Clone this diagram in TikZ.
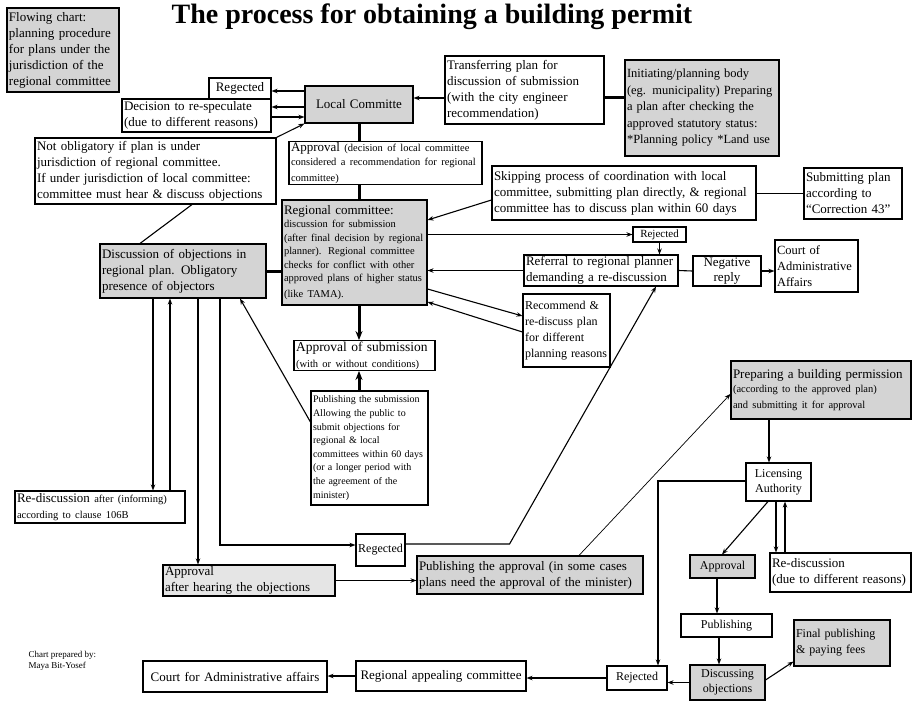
\documentclass[tikz,border=0pt]{standalone}
\usepackage{fontspec}
\setmainfont{Liberation Serif}
\usetikzlibrary{arrows.meta, calc}

\newcommand{\smalltxt}{\fontsize{10.5}{13.5}\selectfont}

\begin{document}
\begin{tikzpicture}[x=1pt, y=-1pt, >={Stealth[length=6pt,width=4.5pt]},
  box/.style={draw, line width=1.1pt, inner xsep=2pt, inner ysep=1pt, align=left, font=\fontsize{13}{16}\selectfont},
  graybox/.style={box, fill=black!17},
  link/.style={line width=1.1pt},
  heavy/.style={line width=3pt},
  faint/.style={line width=0.7pt},
  bigtip/.style={-{Stealth[length=9pt,width=7pt]}}]

\useasboundingbox (0,0) rectangle (913,702);

\node[font=\fontsize{28}{30}\selectfont\bfseries, anchor=base] (title) at (432,23) {The process for obtaining a building permit};

% upper part: local committee
\node[graybox, text width=108pt, minimum height=84pt] (flow) at (63,50) {Flowing chart:\\ planning procedure\\ for plans under the\\ jurisdiction of the\\ regional committee};
\node[box, align=center, text width=58pt, minimum height=21pt] (rejA) at (240,88.5) {Regected};
\node[box, text width=145pt, minimum height=33pt] (respec) at (196.5,115.5) {Decision to re-speculate\\ (due to different reasons)};
\node[box, text width=237pt, minimum height=66pt] (notobl) at (155.5,171) {Not obligatory if plan is under\\ jurisdiction of regional committee.\\ If under jurisdiction of local committee:\\ committee must hear \& discuss objections};
\node[graybox, align=center, text width=104pt, minimum height=37pt] (local) at (359,104.5) {Local Committe};
\node[box, text width=155pt, minimum height=68pt] (transfer) at (524.5,90) {Transferring plan for\\ discussion of submission\\ (with the city engineer\\ recommendation)};
\node[graybox, text width=150pt, minimum height=96pt, font=\fontsize{12.5}{16.5}\selectfont] (init) at (702,108) {Initiating/planning body\\ (eg. municipality) Preparing\\ a plan after checking the\\ approved statutory status:\\ {*}Planning policy {*}Land use};
\node[box, text width=189pt, minimum height=42pt] (apprlocal) at (385.5,163) {Approval {\smalltxt (decision of local committee}\\ \smalltxt considered a recommendation for regional\\ committee)};

% regional committee
\node[graybox, text width=141pt, minimum height=105pt] (regional) at (354.5,252.5) {Regional committee:\\ \smalltxt discussion for submission\\ (after final decision by regional\\ planner). Regional committee\\ checks for conflict with other\\ approved plans of higher status\\ (like TAMA).};
\node[box, text width=260pt, minimum height=54pt] (skip) at (624,193) {Skipping process of coordination with local\\ committee, submitting plan directly, \& regional\\ committee has to discuss plan within 60 days};
\node[box, text width=94pt, minimum height=51pt] (corr) at (853,193.5) {Submitting plan\\ according to\\ ``Correction 43''};
\node[box, align=center, text width=49pt, minimum height=15pt, inner ysep=0pt, font=\fontsize{11}{12}\selectfont] (rejB) at (659.5,234.5) {Rejected};
\node[box, text width=150pt, minimum height=31pt] (referral) at (601,270.5) {Referral to regional planner\\ demanding a re-discussion};
\node[box, align=center, text width=64pt, minimum height=30pt, font=\fontsize{13}{14.5}\selectfont] (negative) at (727,271) {Negative\\ reply};
\node[box, text width=79pt, minimum height=52pt, font=\fontsize{12.5}{16}\selectfont] (courtA) at (816.5,266) {Court of\\ Administrative\\ Affairs};
\node[box, text width=83pt, minimum height=73pt, font=\fontsize{12}{16}\selectfont] (recommend) at (566.5,330.5) {Recommend \&\\ re-discuss plan\\ for different\\ planning reasons};
\node[graybox, text width=162pt, minimum height=54pt] (objdisc) at (183,271) {Discussion of objections in\\ regional plan. Obligatory\\ presence of objectors};
\node[box, text width=137pt, minimum height=29pt] (apprsub) at (364.5,355.5) {{\fontsize{13.5}{15}\selectfont Approval of submission}\\ \smalltxt (with or without conditions)};
\node[box, text width=113pt, minimum height=114pt, font=\fontsize{10}{13.6}\selectfont] (publish) at (369.5,448) {Publishing the submission\\ Allowing the public to\\ submit objections for\\ regional \& local\\ committees within 60 days\\ (or a longer period with\\ the agreement of the\\ minister)};

% lower left
\node[box, text width=166pt, minimum height=32pt] (rediscA) at (100,507) {Re-discussion {\smalltxt after (informing)}\\ \smalltxt according to clause 106B};
\node[box, align=center, text width=47pt, inner xsep=1pt, minimum height=32pt, font=\fontsize{12}{14}\selectfont] (rejC) at (380.5,550) {Regected};
\node[graybox, text width=168pt, minimum height=31pt, fill=black!10] (apprhear) at (249,580.5) {Approval\\ after hearing the objections};
\node[graybox, text width=222pt, minimum height=38pt] (pubappr) at (530,575) {Publishing the approval (in some cases\\ plans need the approval of the minister)};

% building permission
\node[graybox, text width=176pt, minimum height=58pt] (prepare) at (821,390) {Preparing a building permission\\ \smalltxt (according to the approved plan)\\ and submitting it for approval};
\node[box, align=center, text width=61pt, minimum height=38pt, font=\fontsize{12}{15}\selectfont] (licens) at (778.5,482) {Licensing\\ Authority};
\node[box, text width=137pt, minimum height=39pt] (rediscB) at (840.5,572.5) {Re-discussion\\ (due to different reasons)};
\node[graybox, align=center, text width=61pt, minimum height=23pt, font=\fontsize{12}{14}\selectfont] (apprB) at (722.5,566.5) {Approval};
\node[box, align=center, text width=87pt, minimum height=23pt, font=\fontsize{12}{14}\selectfont] (publishing) at (726.5,625.5) {Publishing};
\node[graybox, text width=92pt, minimum height=46pt, font=\fontsize{12}{16}\selectfont] (final) at (842,643) {Final publishing\\ \& paying fees};
\node[graybox, align=center, text width=71pt, minimum height=35pt, font=\fontsize{12}{15}\selectfont] (discobj) at (727.5,682.5) {Discussing\\ objections};
\node[box, align=center, text width=56pt, minimum height=24pt, font=\fontsize{12}{14}\selectfont] (rejD) at (637,678) {Rejected};
\node[box, align=center, text width=166pt, minimum height=30pt] (appeal) at (441,676) {Regional appealing committee};
\node[box, align=center, text width=180pt, minimum height=31pt] (courtB) at (235,676.5) {Court for Administrative affairs};
\node[anchor=north west, align=left, font=\fontsize{9}{11}\selectfont] (credit) at (25,648) {Chart prepared by:\\ Maya Bit-Yosef};

% connectors
\draw[heavy] ($(transfer.east)+(0,7)$) -- ($(init.west)+(0,-11)$);
\draw[link,->] ($(transfer.west)+(0,8)$) -- ($(local.east)+(0,-6.5)$);
\draw[link,->] ($(local.west)+(0,-13.5)$) -- ($(rejA.east)+(0,2.5)$);
\draw[link,->] ($(local.west)+(0,2.5)$) -- ($(respec.east)+(0,-8.5)$);
\draw[link,->] ($(respec.east)+(0,1.5)$) -- ($(local.west)+(0,12.5)$);
\draw[link,->] (notobl.north east) -- (local.south west);
\draw[heavy] (local.south) -- (local.south |- apprlocal.north);
\draw[heavy] (local.south |- apprlocal.south) -- (local.south |- regional.north);
\draw[link] ($(notobl.south)+(36.5,0)$) -- ($(objdisc.north)+(-43,0)$);
\draw[heavy] (objdisc.east) -- (objdisc.east -| regional.west);
\draw[link,->] ($(skip.west)+(0,7)$) -- ($(regional.east)+(0,-32.5)$);
\draw[faint] (skip.east) -- (skip.east -| corr.west);
\draw[link,->] (rejB.west -| regional.east) -- (rejB.west);
\draw[link,->] (rejB.south) -- (rejB.south |- referral.north);
\draw[link,->] (referral.west) -- (referral.west -| regional.east);
\draw[link] (referral.east) -- (negative.west);
\draw[link,->] (negative.east) -- (negative.east -| courtA.west);
\draw[link,->] ($(regional.east)+(0,36.5)$) -- ($(recommend.west)+(0,-14.5)$);
\draw[link,->] ($(recommend.west)+(0,1.5)$) -- ($(regional.east)+(0,49.5)$);
\draw[heavy,bigtip] (local.south |- regional.south) -- (local.south |- apprsub.north);
\draw[heavy,bigtip] (local.south |- publish.north) -- (local.south |- apprsub.south);
\draw[link,->] ($(publish.west)+(0,-26)$) -- ($(objdisc.south)+(57,0)$);
\draw[link,->] ($(objdisc.south)+(-30,0)$) -- ($(rediscA.north)+(53,0)$);
\draw[link,->] ($(rediscA.north)+(70,0)$) -- ($(objdisc.south)+(-13,0)$);
\draw[link,->] ($(objdisc.south)+(15,0)$) -- ($(apprhear.north)+(-51,0)$);
\draw[link,->] ($(objdisc.south)+(37,0)$) |- ($(rejC.west)+(0,-5)$);
\draw[link,->] ($(rejC.east)+(0,-6)$) -- ($(rejC.east)+(104,-6)$) -- ($(referral.south)+(55,0)$);
\draw[link,->] (apprhear.east) -- (apprhear.east -| pubappr.west);
\draw[faint,->] ($(pubappr.north)+(49,0)$) -- ($(prepare.west)+(0,4)$);
\draw[link,->] ($(prepare.south)+(-52,0)$) -- ($(licens.north)+(-9.5,0)$);
\draw[link,->] ($(licens.south)+(-10.5,0)$) -- ($(apprB.north)+(-0.5,0)$);
\draw[link,->] ($(licens.south)+(-2.5,0)$) -- ($(rediscB.north)+(-64.5,0)$);
\draw[link,->] ($(rediscB.north)+(-55.5,0)$) -- ($(licens.south)+(6.5,0)$);
\draw[link,->] ($(apprB.south)+(-5.5,0)$) -- ($(publishing.north)+(-9.5,0)$);
\draw[link,->] ($(publishing.south)+(-7.5,0)$) -- ($(discobj.north)+(-8.5,0)$);
\draw[link,->] ($(discobj.east)+(0,-2.5)$) -- ($(final.south west)+(0,-5)$);
\draw[link,->] (discobj.west) -- (discobj.west -| rejD.east);
\draw[link,->] (rejD.west) -- (rejD.west -| appeal.east);
\draw[link,->] (appeal.west) -- (appeal.west -| courtB.east);
\draw[link,->] ($(licens.west)+(0,-1)$) -| ($(rejD.north)+(21,0)$);
\end{tikzpicture}
\end{document}
